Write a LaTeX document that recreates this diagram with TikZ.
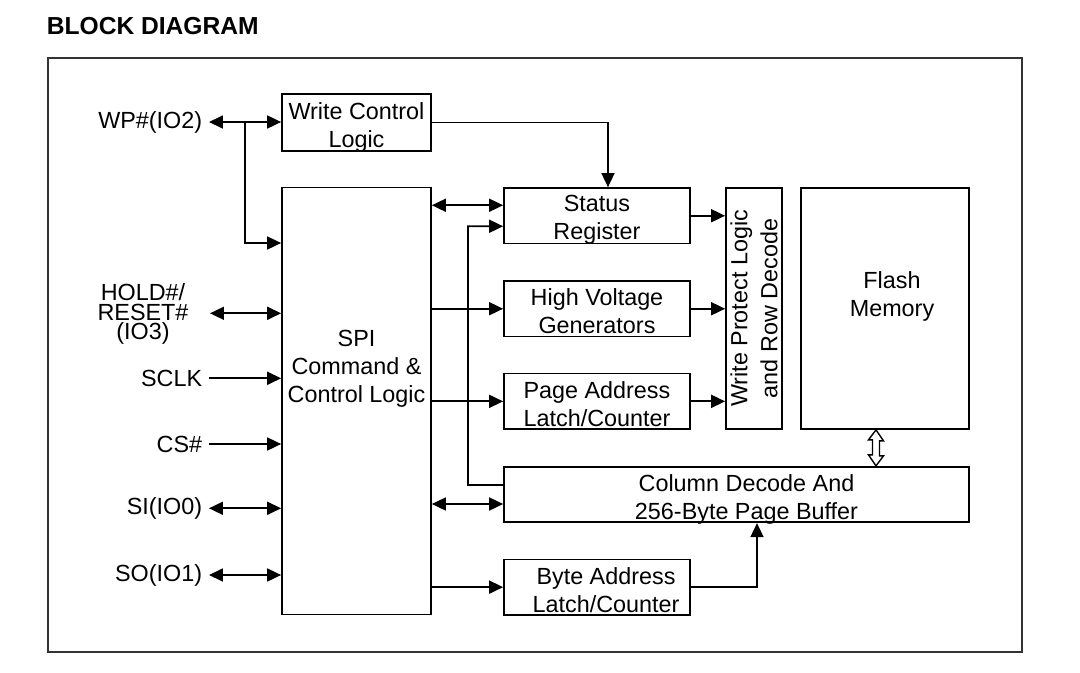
\documentclass[tikz,border=0pt]{standalone}
\usepackage{fontspec}
\setmainfont{Liberation Sans}
\usetikzlibrary{arrows.meta,calc}
\begin{document}
\begin{tikzpicture}[x=0.02cm,y=-0.02cm,line width=1pt,
  >={Triangle[length=0.28cm,width=0.26cm]},
  txt/.style={font=\fontsize{13.3}{15.9}\selectfont, align=center},
  blk/.style={draw, rectangle, inner sep=0pt, txt},
  pin/.style={anchor=east, inner xsep=0.12cm, inner ysep=0pt, font=\fontsize{13.3}{15.9}\selectfont},
  holdtxt/.style={align=center, inner sep=0pt, font=\fontsize{13.3}{11.2}\selectfont},
]
\useasboundingbox (0,0) rectangle (1080,673);

% title and frame
\node[anchor=base west, inner sep=0pt, font=\bfseries\fontsize{14}{16}\selectfont] (title) at (46,34.3) {BLOCK DIAGRAM};
\draw[line width=1.3pt, black!80] (48,58) rectangle (1022,652);

% blocks
\node[blk, minimum width=2.98cm, minimum height=1.14cm,
  label={[txt, yshift=-0.09cm]center:Write Control\\Logic}] (wcl) at (356.5,122.5) {};
\node[blk, minimum width=2.98cm, minimum height=8.54cm,
  label={[txt, yshift=0.64cm]center:SPI\\Command \&\\Control Logic}] (spi) at (356.5,401) {};
\node[blk, minimum width=3.72cm, minimum height=1.11cm,
  label={[txt, yshift=-0.08cm]center:Status\\Register}] (status) at (597,215.75) {};
\node[blk, minimum width=3.72cm, minimum height=1.11cm,
  label={[txt, yshift=-0.05cm]center:High Voltage\\Generators}] (hv) at (597,308.75) {};
\node[blk, minimum width=3.72cm, minimum height=1.11cm,
  label={[txt, yshift=-0.06cm]center:Page Address\\Latch/Counter}] (pa) at (597,401.35) {};
\node[blk, minimum width=1.12cm, minimum height=4.82cm,
  label={[align=center, rotate=90, font=\fontsize{13.3}{17}\selectfont]center:Write Protect Logic\\and Row Decode}] (wprd) at (754,308.5) {};
\node[blk, minimum width=3.36cm, minimum height=4.82cm,
  label={[txt, xshift=0.14cm, yshift=0.25cm]center:Flash\\Memory}] (flash) at (885,308.5) {};
\node[blk, minimum width=9.3cm, minimum height=1.11cm,
  label={[txt, xshift=0.2cm, yshift=-0.09cm]center:Column Decode And\\256-Byte Page Buffer}] (col) at (736.5,494.5) {};
\node[blk, minimum width=3.72cm, minimum height=1.11cm,
  label={[txt, xshift=0.18cm, yshift=-0.06cm]center:Byte Address\\Latch/Counter}] (ba) at (597,587.15) {};

% pins
\node[pin] (wp) at (209,122) {WP\#(IO2)};
\node[holdtxt] (hold) at (143,314) {HOLD\#/\\RESET\#\\(IO3)};
\coordinate (holdp) at (210,313.3);
\node[pin] (sclk) at (209,378.3) {SCLK};
\node[pin] (cs) at (209,444) {CS\#};
\node[pin] (si) at (209,508.3) {SI(IO0)};
\node[pin] (so) at (209,575) {SO(IO1)};

% helper coordinates
\coordinate (wpj) at (245,122);
\coordinate (wpk) at (245,243);
\coordinate (st1) at ([yshift=0.21cm]status.west);
\coordinate (st2) at ([yshift=-0.21cm]status.west);
\coordinate (col1) at ([yshift=0.19cm]col.west);
\coordinate (col2) at ([yshift=-0.19cm]col.west);
\coordinate (bus) at (468,485);
\coordinate (stn) at ([xshift=0.22cm]status.north);
\coordinate (colb) at ([xshift=0.41cm]col.south);
\coordinate (dA) at ([xshift=-0.18cm]flash.south);
\coordinate (dB) at (dA |- col.north);

% pin connectors
\draw[<->] (wp.east) -- (wp.east -| wcl.west);
\draw[->] (wpj) -- (wpk) -- (wpk -| spi.west);
\draw[<->] (holdp) -- (holdp -| spi.west);
\draw[->] (sclk.east) -- (sclk.east -| spi.west);
\draw[->] (cs.east) -- (cs.east -| spi.west);
\draw[<->] (si.east) -- (si.east -| spi.west);
\draw[<->] (so.east) -- (so.east -| spi.west);

% internal connectors
\draw[->] (wcl.east) -| (stn);
\draw[<->] (st1 -| spi.east) -- (st1);
\draw[->] (col1) -- (bus) -- (bus |- st2) -- (st2);
\draw[->] (spi.east |- hv.west) -- (hv.west);
\draw[->] (spi.east |- pa.west) -- (pa.west);
\draw[<->] (col2 -| spi.east) -- (col2);
\draw[->] (spi.east |- ba.west) -- (ba.west);
\draw[->] (status.east) -- (status.east -| wprd.west);
\draw[->] (hv.east) -- (hv.east -| wprd.west);
\draw[->] (pa.east) -- (pa.east -| wprd.west);
\draw[->] (ba.east) -| (colb);

% hollow double arrow flash <-> column decode
\draw[line width=0.8pt, fill=white] (dA) -- ++(7.5,11) -- ++(-4,0) -- ++(0,15) -- ++(4,0) -- (dB)
  -- ++(-7.5,-11) -- ++(4,0) -- ++(0,-15) -- ++(-4,0) -- cycle;
\end{tikzpicture}
\end{document}
